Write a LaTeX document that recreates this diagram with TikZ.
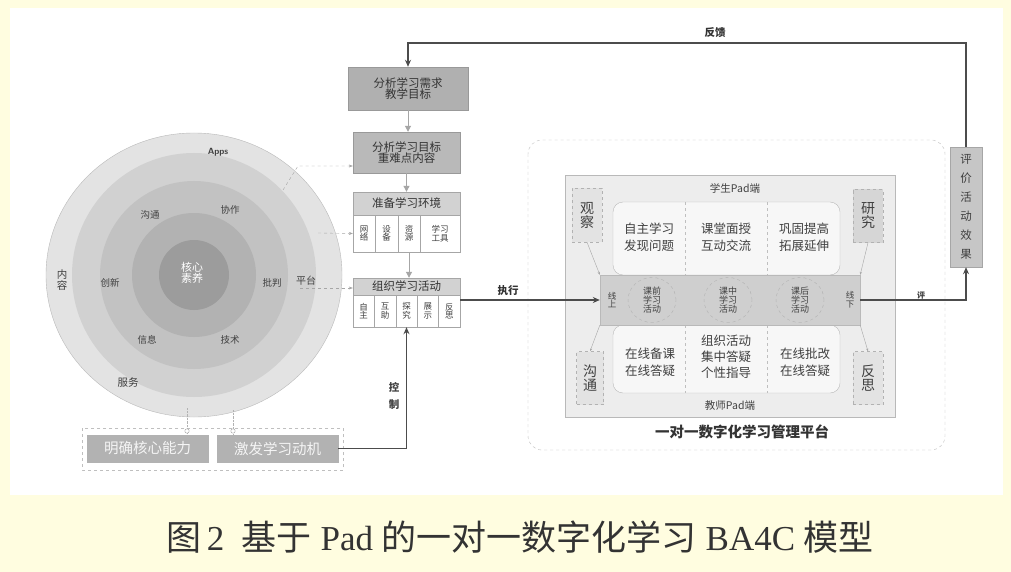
\documentclass[tikz,border=0pt]{standalone}
\usepackage{fontspec}
\setmainfont{Liberation Serif}
\newfontfamily\cjk{Noto Sans CJK SC}
\usetikzlibrary{arrows.meta,calc,shapes.geometric}
\begin{document}
\begin{tikzpicture}[x=1pt,y=-1pt,
  fsz/.style={font=\cjk\fontsize{#1}{#1}\selectfont},
  dbox/.style={draw=gray!80, fill=gray!55, text=black!80, align=center, inner sep=1pt, fsz=11.5},
  cell/.style={draw=gray!70, fill=white, text=black!75, align=center, inner sep=0pt, fsz=8.5},
  hdr/.style={draw=gray!70, fill=gray!35, text=black!80, align=center, inner sep=0pt, fsz=11.5},
  mbox/.style={draw=gray!60, fill=gray!60, text=white!92!gray, align=center, inner sep=1pt, fsz=14.5},
  corner/.style={draw=gray!60, dashed, fill=gray!22, text=black!75, align=center, inner sep=0pt, fsz=14},
  thk/.style={draw=black!70, line width=1.3pt, -{Stealth[length=7pt,width=6pt]}},
  varr/.style={draw=gray!70, line width=1pt, -{Triangle[length=6pt,width=6pt]}},
  darr/.style={draw=gray!70, dashed, thin, -{Stealth[length=4pt]}},
  lk/.style={draw=gray!70, thin, -{Stealth[length=3pt]}},
  lbl/.style={text=black!75, fsz=#1},
  ptxt/.style={text=black!75, align=center, font=\cjk\fontsize{12.5}{17}\selectfont},
  circ/.style={draw=gray!60, dashed, ellipse, minimum width=48, minimum height=45, inner sep=0pt, align=center, fsz=9, text=black!75}
]
\useasboundingbox (0,0) rectangle (1011,572);
\fill[yellow!12] (0,0) rectangle (1011,572);
\fill[white] (10,8) rectangle (1003,495);

% ---------- circle ----------
\fill[gray!22] (194,275) ellipse (148 and 142);
\draw[gray!55] (194,275) ellipse (148 and 142);
\fill[gray!36] (194,275) circle (122);
\fill[gray!48] (194,275) circle (94);
\fill[gray!60] (194,275) circle (62);
\fill[gray!78] (194,275) circle (35);
\node[text=black!75, font=\sffamily\bfseries\fontsize{9}{9}\selectfont] (apps) at (218,152) {Apps};
\node[lbl=10.5, align=center] (nr) at (62,280) {内\\容};
\node[lbl=10.5] (fw) at (128,383) {服务};
\node[lbl=10] (pt) at (306,281) {平台};
\node[lbl=9.5] (r1) at (150,215) {沟通};
\node[lbl=9.5] (r2) at (230,210) {协作};
\node[lbl=9.5] (r3) at (110,283) {创新};
\node[lbl=9.5] (r4) at (272,283) {批判};
\node[lbl=9.5] (r5) at (147,340) {信息};
\node[lbl=9.5] (r6) at (230,340) {技术};
\node[fsz=11, text=white, align=center] (core) at (192,273) {核心\\素养};

% ---------- left flow ----------
\node[dbox, minimum width=120, minimum height=43, fill=gray!62] (b1) at (408,88.5) {分析学习需求\\教学目标};
\node[dbox, minimum width=107, minimum height=41] (b2) at (406.5,152.5) {分析学习目标\\重难点内容};
\node[hdr, minimum width=107, minimum height=23] (b3) at (406.5,203.5) {准备学习环境};
\node[cell, minimum width=22, minimum height=37] (b3a) at (364,233.5) {网\\络};
\node[cell, minimum width=23, minimum height=37] (b3b) at (386.5,233.5) {设\\备};
\node[cell, minimum width=22, minimum height=37] (b3c) at (409,233.5) {资\\源};
\node[cell, minimum width=40, minimum height=37] (b3d) at (440,233.5) {学习\\工具};
\node[hdr, minimum width=107, minimum height=17] (b4) at (406.5,286.5) {组织学习活动};
\node[cell, minimum width=21.4, minimum height=32] (b4a) at (363.7,311) {自\\主};
\node[cell, minimum width=21.4, minimum height=32] (b4b) at (385.1,311) {互\\助};
\node[cell, minimum width=21.4, minimum height=32] (b4c) at (406.5,311) {探\\究};
\node[cell, minimum width=21.4, minimum height=32] (b4d) at (427.9,311) {展\\示};
\node[cell, minimum width=21.4, minimum height=32] (b4e) at (449.3,311) {反\\思};

\draw[varr] (b1.south) -- (b2.north -| b1.south);
\draw[varr] (b2.south) -- (b3.north);
\draw[varr] (b3c.south) -- (b3c.south |- b4.north);

% dashed links circle -> flow
\coordinate (d1) at (283,190);
\coordinate (d1b) at (298,166);
\coordinate (d2) at (318,233);
\coordinate (d3) at (300,288);
\draw[darr] (d1) -- (d1b) -- (d1b -| b2.west);
\draw[darr] (d2) -- (b3a.west);
\draw[darr] (d3) -- (d3 -| b4.west);

% ---------- bottom boxes ----------
\draw[gray!50, dashed] (82,428) rectangle (343,470);
\node[mbox, minimum width=121, minimum height=27] (m1) at (147.5,448.5) {明确核心能力};
\node[mbox, minimum width=121, minimum height=27] (m2) at (277.5,448.5) {激发学习动机};
\coordinate (c1) at (187,408);
\coordinate (c2) at (233,410);
\draw[gray!60, densely dotted] (c1) -- (c1 |- m1.north);
\draw[gray!60, densely dotted] (c2) -- (c2 |- m2.north);
\draw[gray!70, fill=white] (c1 |- 0,431) circle (2.2);
\draw[gray!70, fill=white] (c2 |- 0,431) circle (2.2);

\draw[thk] (m2.east) -| (b4c.south);
\node[text=black!75, align=center, font=\cjk\bfseries\fontsize{10.5}{17}\selectfont] (kz) at (394,396) {控\\制};

% ---------- platform ----------
\draw[gray!50, dashed, rounded corners=14] (528,140) rectangle (945,450);
\node[draw=gray!55, fill=gray!14, minimum width=330, minimum height=242] (pf) at (730,296) {};
\node[draw=gray!55, fill=gray!6, rounded corners=10, minimum width=227, minimum height=73] (stu) at (726.5,238.5) {};
\node[draw=gray!55, fill=gray!6, rounded corners=10, minimum width=227, minimum height=68] (tea) at (726.5,359) {};
\draw[gray!50, dashed] (685,202) -- (685,275);
\draw[gray!50, dashed] (767,202) -- (767,275);
\draw[gray!50, dashed] (685,325) -- (685,393);
\draw[gray!50, dashed] (767,325) -- (767,393);
\node[lbl=10.5] (stl) at (735,188) {学生Pad端};
\node[lbl=10.5] (tel) at (730,406) {教师Pad端};
\node[ptxt] (s1) at (649,237) {自主学习\\发现问题};
\node[ptxt] (s2) at (726,237) {课堂面授\\互动交流};
\node[ptxt] (s3) at (804,237) {巩固提高\\拓展延伸};
\node[ptxt] (t1) at (650,362) {在线备课\\在线答疑};
\node[ptxt, font=\cjk\fontsize{12.5}{16}\selectfont] (t2) at (726,357) {组织活动\\集中答疑\\个性指导};
\node[ptxt] (t3) at (805,362) {在线批改\\在线答疑};

\node[draw=gray!55, fill=gray!38, minimum width=260, minimum height=50] (band) at (730,300) {};
\node[circ] (e1) at (652,300) {课前\\学习\\活动};
\node[circ] (e2) at (728,300) {课中\\学习\\活动};
\node[circ] (e3) at (800,300) {课后\\学习\\活动};
\node[lbl=8.5, align=center] (on) at (612,300) {线\\上};
\node[lbl=8.5, align=center] (off) at (850,300) {线\\下};

\node[corner, minimum width=30, minimum height=54] (k1) at (587,215) {观\\察};
\node[corner, minimum width=30, minimum height=53, fill=gray!32] (k2) at (868,216) {研\\究};
\node[corner, minimum width=27, minimum height=53] (k3) at (590,378) {沟\\通};
\node[corner, minimum width=30, minimum height=53] (k4) at (868,378) {反\\思};
\draw[lk] (k1.south) -- (band.north west);
\draw[lk] (k2.south) -- (band.north east);
\draw[lk] (band.south west) -- (k3.north);
\draw[lk] (band.south east) -- (k4.north);

\node[font=\cjk\bfseries\fontsize{14.5}{14.5}\selectfont, text=black!80] (pfl) at (742,432) {一对一数字化学习管理平台};

% ---------- right / feedback ----------
\node[draw=gray!70, fill=gray!45, minimum width=32, minimum height=120, align=center, inner sep=0pt, font=\cjk\fontsize{11.5}{19}\selectfont, text=black!75] (ev) at (966,207) {评\\价\\活\\动\\效\\果};
\draw[thk] (band.east) -| (ev.south);
\node[font=\cjk\bfseries\fontsize{8}{8}\selectfont, text=black!75] (evl) at (921,295) {评};

\coordinate (fb) at (966,43);
\draw[thk] (ev.north) -- (fb) -| (b1.north);
\node[font=\cjk\bfseries\fontsize{10.5}{10.5}\selectfont, text=black!80] (fbl) at (715,33) {反馈};

\draw[thk] (b4e.east |- band.west) -- (band.west);
\node[font=\cjk\bfseries\fontsize{10.5}{10.5}\selectfont, text=black!80] (exl) at (508,291) {执行};

% ---------- caption ----------
\node[text=black!80, font=\cjk\fontsize{35}{36}\selectfont] (cap) at (520,537) {图\,{\rmfamily 2}\hspace{0.5em}基于\hspace{0.25em}{\rmfamily Pad}\hspace{0.25em}的一对一数字化学习\hspace{0.25em}{\rmfamily BA4C}\hspace{0.25em}模型};
\end{tikzpicture}
\end{document}
